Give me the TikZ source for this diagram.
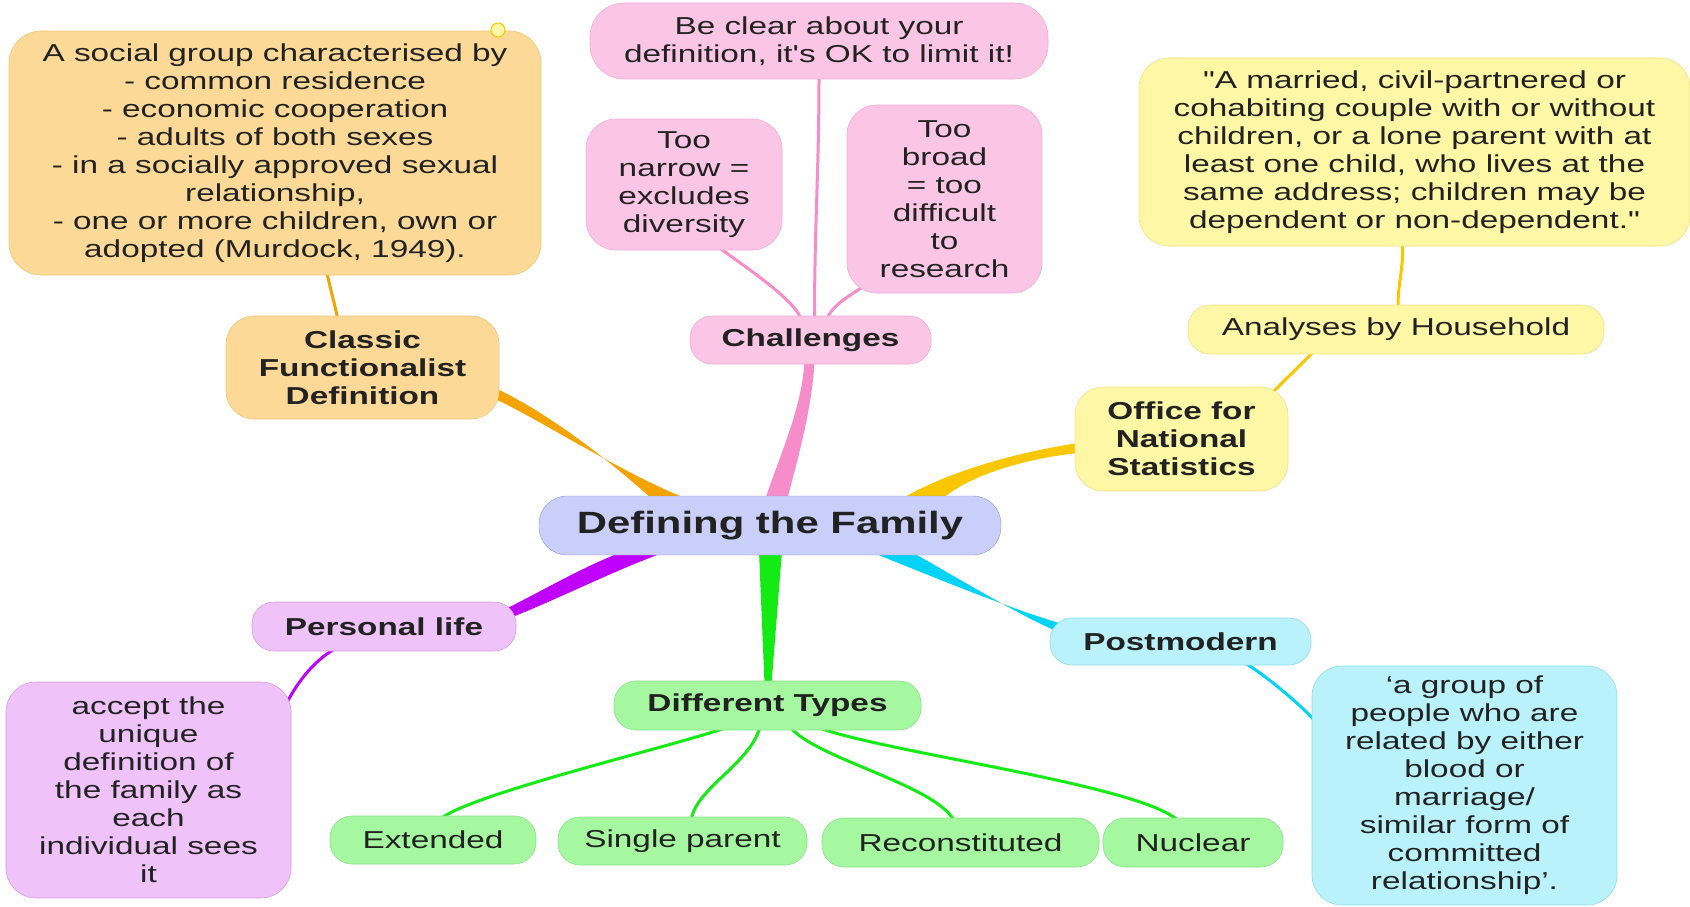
\documentclass[tikz,border=0pt]{standalone}
\usepackage{fontspec}
\setmainfont{Liberation Sans}[FakeStretch=1.36,Ligatures=TeXOff]
\usetikzlibrary{backgrounds}

\definecolor{ink}{HTML}{222222}
\definecolor{orangefill}{HTML}{FCD997}
\definecolor{orangeedge}{HTML}{F2C77A}
\definecolor{orangeline}{HTML}{F5A300}
\definecolor{pinkfill}{HTML}{FBC6E6}
\definecolor{pinkedge}{HTML}{F2AAD6}
\definecolor{pinkline}{HTML}{F68CC9}
\definecolor{yellowfill}{HTML}{FEF7A6}
\definecolor{yellowedge}{HTML}{EEE08A}
\definecolor{yellowline}{HTML}{F9C700}
\definecolor{purplefill}{HTML}{EFC3FA}
\definecolor{purpleedge}{HTML}{D69BE8}
\definecolor{purpleline}{HTML}{BF00FF}
\definecolor{greenfill}{HTML}{A6F8A0}
\definecolor{greenedge}{HTML}{88E488}
\definecolor{greenline}{HTML}{14EB14}
\definecolor{cyanfill}{HTML}{BAF2FB}
\definecolor{cyanedge}{HTML}{8EDDEC}
\definecolor{cyanline}{HTML}{00D3F5}
\definecolor{hubfill}{HTML}{C9CFF9}
\definecolor{hubedge}{HTML}{8F96CF}

\tikzset{
  mapbox/.style={rounded corners=30pt, align=center, inner sep=0pt, text=ink,
    line width=0.6pt, font=\fontsize{24.5}{28}\selectfont},
  orangebox/.style={mapbox, draw=orangeedge, fill=orangefill},
  pinkbox/.style={mapbox, draw=pinkedge, fill=pinkfill},
  yellowbox/.style={mapbox, draw=yellowedge, fill=yellowfill},
  purplebox/.style={mapbox, draw=purpleedge, fill=purplefill},
  greenbox/.style={mapbox, draw=greenedge, fill=greenfill},
  cyanbox/.style={mapbox, draw=cyanedge, fill=cyanfill},
  pill/.style={rounded corners=22pt},
  topic/.style={font=\fontsize{24.5}{28}\selectfont\bfseries},
  twig/.style={draw=#1, line width=3pt}
}

\begin{document}
\begin{tikzpicture}[x=1pt,y=-1pt]
    \useasboundingbox (0,0) rectangle (1690,907);

    \node[draw=hubedge, fill=hubfill, rounded corners=28pt, inner sep=0pt, text=ink,
      minimum width=462, minimum height=59, font=\fontsize{30.8}{34}\selectfont\bfseries]
      (hub) at (770,525.5) {Defining the Family};

    \node[orangebox, minimum width=532, minimum height=244, rounded corners=32pt] (murdock) at (275,153)
      {A social group characterised by\\- common residence\\- economic cooperation\\- adults of both sexes\\- in a socially approved sexual\\relationship,\\- one or more children, own or\\adopted (Murdock, 1949).};
    \node[circle, draw=yellowline, fill=yellowfill, line width=1pt, minimum size=14, inner sep=0pt] (pin) at (498,30) {};
    \node[orangebox, topic, minimum width=273, minimum height=103, rounded corners=28pt] (classic) at (362.5,367.5)
      {Classic\\Functionalist\\Definition};

    \node[pinkbox, topic, pill, minimum width=241, minimum height=48] (challenges) at (810.5,340) {Challenges};
    \node[pinkbox, minimum width=458, minimum height=76, rounded corners=34pt] (clear) at (819,41)
      {Be clear about your\\definition, it's OK to limit it!};
    \node[pinkbox, minimum width=196, minimum height=131] (narrow) at (684,184.5)
      {Too\\narrow =\\excludes\\diversity};
    \node[pinkbox, minimum width=195, minimum height=188] (broad) at (944.5,199)
      {Too\\broad\\= too\\difficult\\to\\research};

    \node[yellowbox, topic, minimum width=213, minimum height=104, rounded corners=28pt] (ons) at (1181.5,439)
      {Office for\\National\\Statistics};
    \node[yellowbox, pill, minimum width=416, minimum height=49] (analyses) at (1396,329.5) {Analyses by Household};
    \node[yellowbox, minimum width=551, minimum height=188] (onsquote) at (1414.5,152)
      {"A married, civil-partnered or\\cohabiting couple with or without\\children, or a lone parent with at\\least one child, who lives at the\\same address; children may be\\dependent or non-dependent."};

    \node[purplebox, topic, pill, minimum width=264, minimum height=49] (personal) at (384,626.5) {Personal life};
    \node[purplebox, minimum width=285, minimum height=216] (personalbox) at (148.5,790)
      {accept the\\unique\\definition of\\the family as\\each\\individual sees\\it};

    \node[greenbox, topic, pill, minimum width=307, minimum height=49] (types) at (767.5,705.5) {Different Types};
    \node[greenbox, pill, minimum width=206, minimum height=48] (extended) at (433,840) {Extended};
    \node[greenbox, pill, minimum width=249, minimum height=48] (single) at (682.5,841) {Single parent};
    \node[greenbox, pill, minimum width=277, minimum height=49] (recon) at (960.5,842.5) {Reconstituted};
    \node[greenbox, pill, minimum width=180, minimum height=49] (nuclear) at (1193,842.5) {Nuclear};

    \node[cyanbox, topic, pill, minimum width=261, minimum height=47] (postmodern) at (1180.5,641.5) {Postmodern};
    \node[cyanbox, minimum width=305, minimum height=239] (pmbox) at (1464.5,785.5)
      {‘a group of\\people who are\\related by either\\blood or\\marriage/\\similar form of\\committed\\relationship’.};

    \begin{scope}[on background layer]
    % main branches
    \fill[orangeline] ([shift={(-117,4)}]hub.north) .. controls +(-50,-45) and +(50,24) .. ([shift={(-3,21)}]classic.east)
      -- ([shift={(-3,32)}]classic.east) .. controls +(45,21) and +(-60,-22) .. ([shift={(-80,4)}]hub.north) -- cycle;
    \fill[pinkline] ([shift={(-5,4)}]hub.north) .. controls +(17,-50) and +(-2,45) .. ([shift={(-6,-4)}]challenges.south)
      -- ([shift={(4,-4)}]challenges.south) .. controls +(-2,45) and +(12,-45) .. ([shift={(17,4)}]hub.north) -- cycle;
    \fill[yellowline] ([shift={(130,4)}]hub.north) .. controls +(50,-30) and +(-55,8) .. ([shift={(4,4)}]ons.west)
      -- ([shift={(4,14)}]ons.west) .. controls +(-50,5) and +(30,-26) .. ([shift={(171,4)}]hub.north) -- cycle;
    \fill[purpleline] ([shift={(-146,-4)}]hub.south) .. controls +(-40,15) and +(40,-20) .. ([shift={(-12,8)}]personal.north east)
      -- ([shift={(-6,16)}]personal.north east) .. controls +(40,-15) and +(-45,15) .. ([shift={(-102,-4)}]hub.south) -- cycle;
    \fill[greenline] ([shift={(-11,-4)}]hub.south) -- ([shift={(-3,3)}]types.north)
      -- ([shift={(4,3)}]types.north) -- ([shift={(12,-4)}]hub.south) -- cycle;
    \fill[cyanline] ([shift={(99,-4)}]hub.south) .. controls +(45,18) and +(-50,-14) .. ([shift={(12,6)}]postmodern.north west)
      -- ([shift={(8,14)}]postmodern.north west) .. controls +(-40,-17) and +(45,25) .. ([shift={(140,-4)}]hub.south) -- cycle;

    % sub branches
    \draw[twig=orangeline] ([shift={(52,-2)}]murdock.south) .. controls +(4,18) and +(-3,-14) .. ([shift={(-25,2)}]classic.north);
    \draw[twig=pinkline] ([shift={(4,2)}]challenges.north) .. controls +(0,-90) and +(0,90) .. ([shift={(0,-2)}]clear.south);
    \draw[twig=pinkline] ([shift={(-10,2)}]challenges.north) .. controls +(-8,-20) and +(20,15) .. ([shift={(36,-2)}]narrow.south);
    \draw[twig=pinkline] ([shift={(17,2)}]challenges.north) .. controls +(5,-12) and +(-15,10) .. ([shift={(-82.5,-6)}]broad.south);
    \draw[twig=yellowline] ([shift={(2,2)}]analyses.north) .. controls +(0,-25) and +(1,25) .. ([shift={(-12,-2)}]onsquote.south);
    \draw[twig=yellowline] ([shift={(-16,6)}]ons.north east) .. controls +(12,-12) and +(-12,12) .. ([shift={(-83,-2)}]analyses.south);
    \draw[twig=purpleline] ([shift={(-50,-2)}]personal.south) .. controls +(-20,12) and +(12,-22) .. ([shift={(-4,20)}]personalbox.north east);
    \draw[twig=greenline] ([shift={(-43,-2)}]types.south) .. controls +(-60,20) and +(35,-25) .. ([shift={(9,2)}]extended.north);
    \draw[twig=greenline] ([shift={(-8,-2)}]types.south) .. controls +(-10,35) and +(5,-30) .. ([shift={(9,2)}]single.north);
    \draw[twig=greenline] ([shift={(24,-2)}]types.south) .. controls +(25,30) and +(-20,-35) .. ([shift={(-7,2)}]recon.north);
    \draw[twig=greenline] ([shift={(53,-2)}]types.south) .. controls +(70,25) and +(-40,-35) .. ([shift={(-16,2)}]nuclear.north);
    \draw[twig=cyanline] ([shift={(65,-2)}]postmodern.south) .. controls +(20,12) and +(-12,-14) .. ([shift={(2,54)}]pmbox.north west);
    \end{scope}
\end{tikzpicture}
\end{document}
